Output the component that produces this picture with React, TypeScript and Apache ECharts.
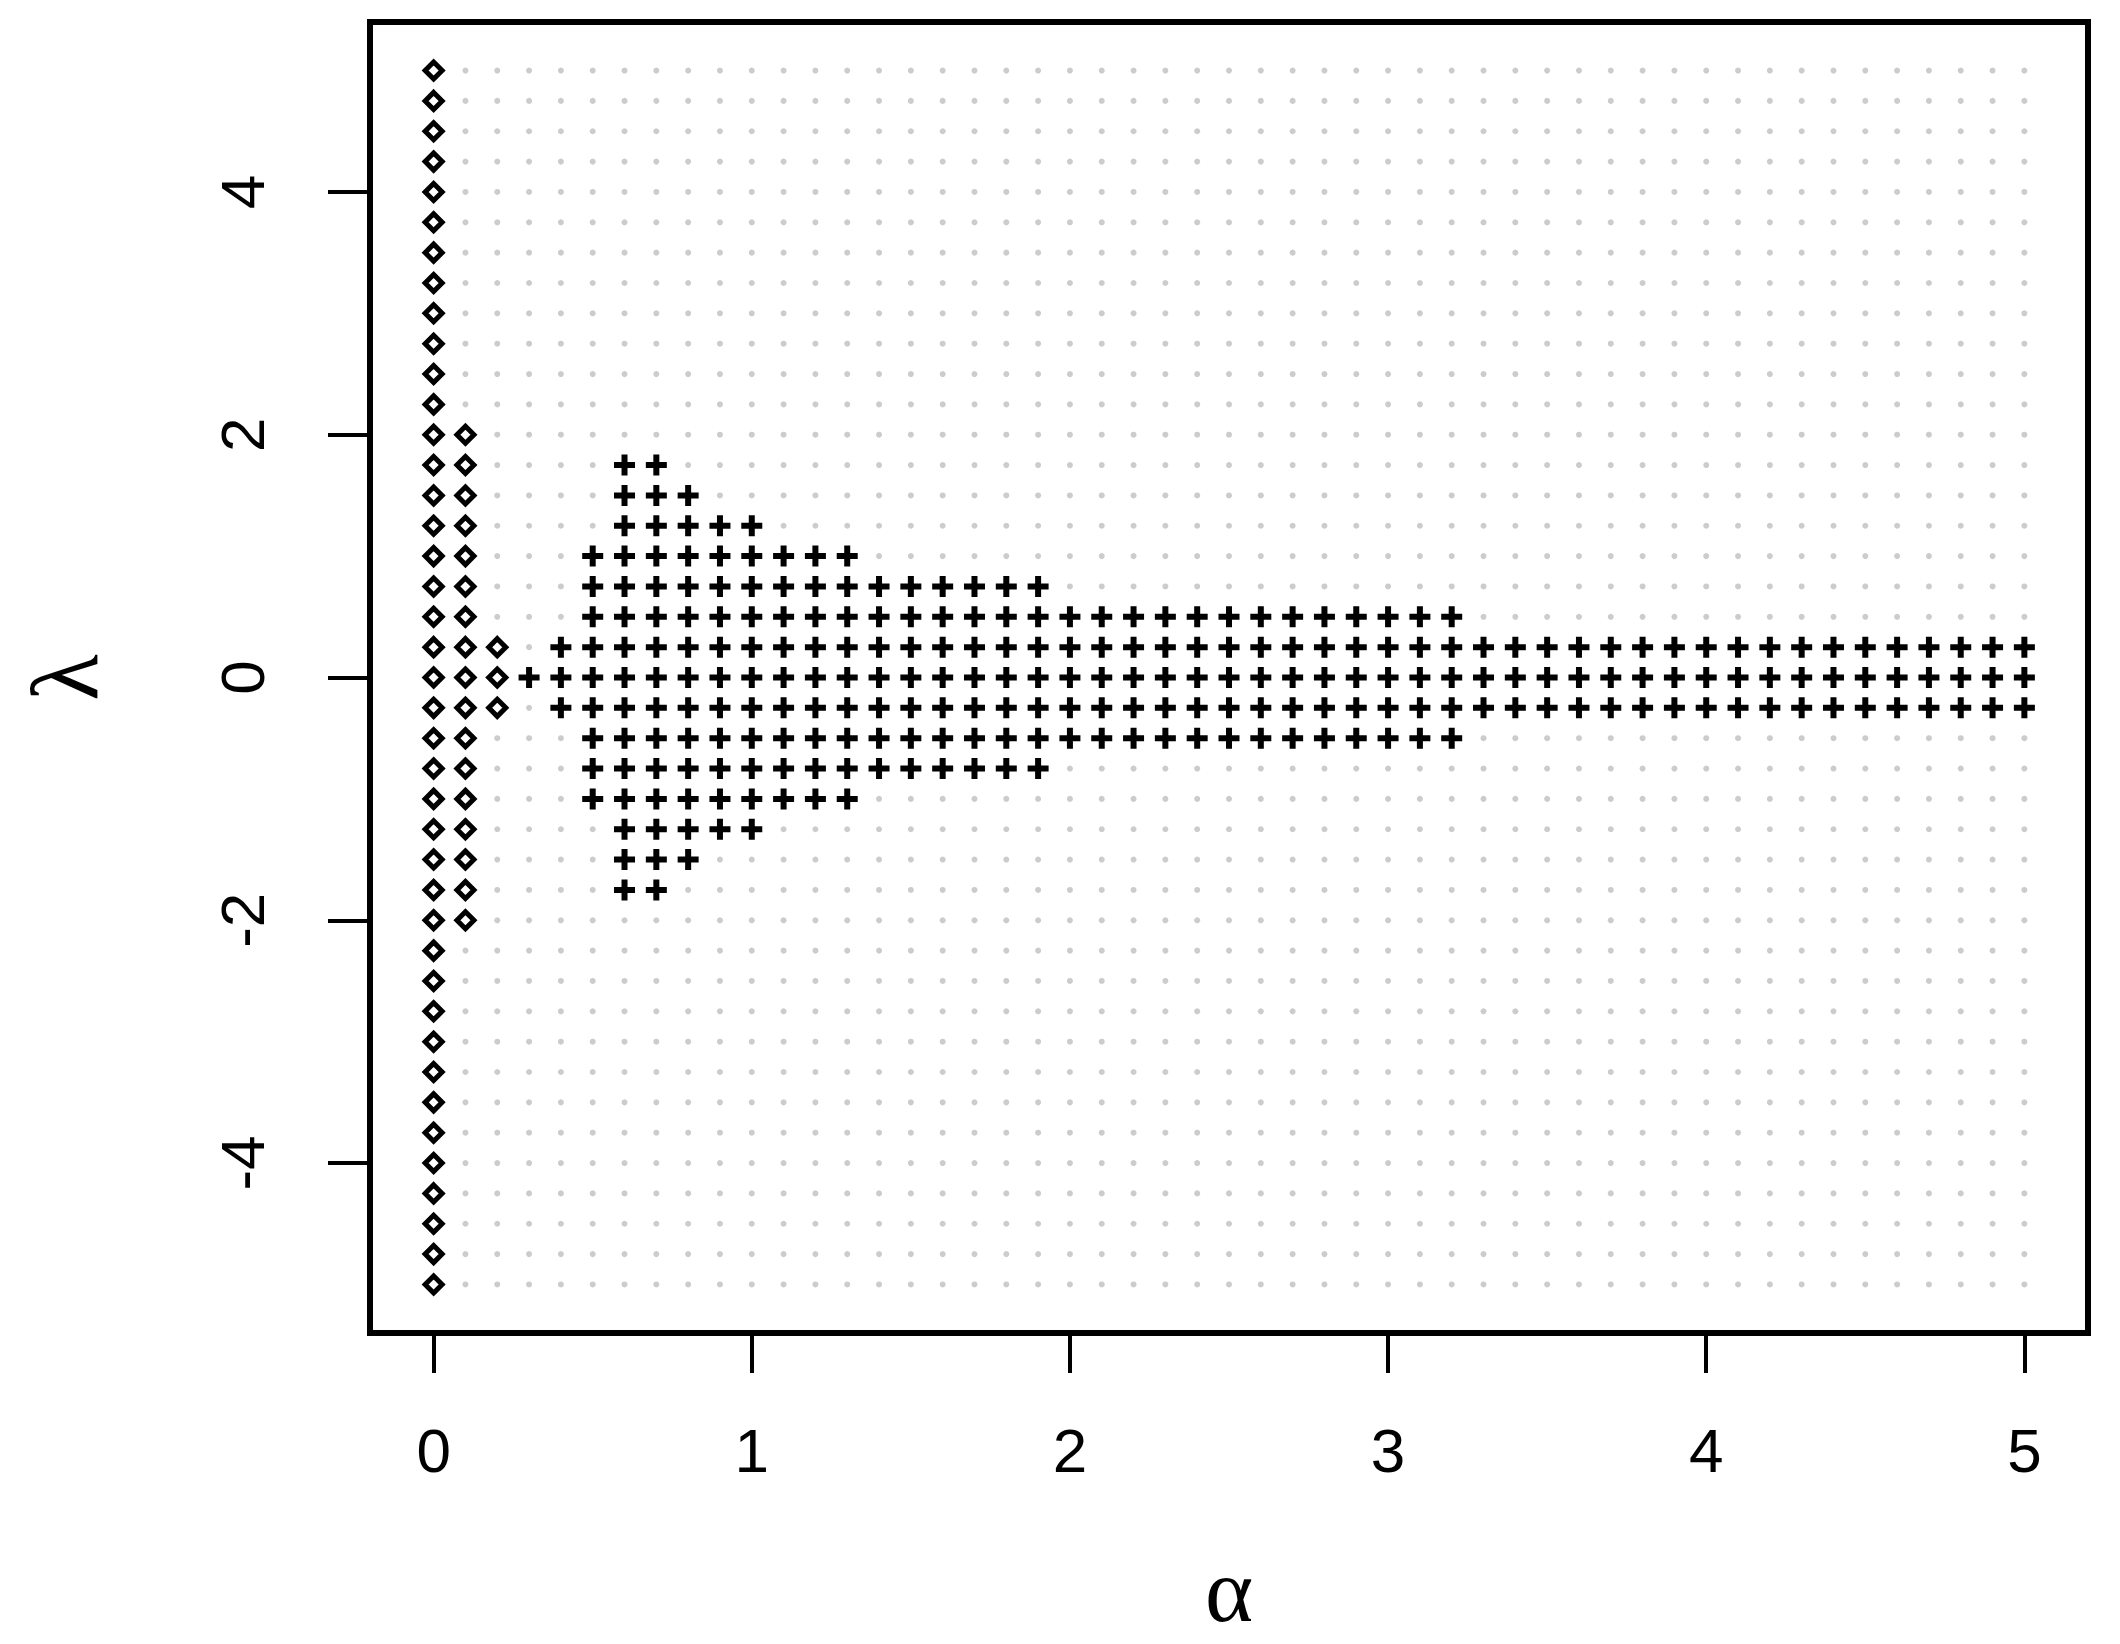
import React, { useEffect, useRef } from "react";
import * as echarts from "echarts";

// Grid of evaluated parameter values
const alphaValues = [
  0, 0.1, 0.2, 0.3, 0.4, 0.5, 0.6, 0.7, 0.8, 0.9,
  1, 1.1, 1.2, 1.3, 1.4, 1.5, 1.6, 1.7, 1.8, 1.9,
  2, 2.1, 2.2, 2.3, 2.4, 2.5, 2.6, 2.7, 2.8, 2.9,
  3, 3.1, 3.2, 3.3, 3.4, 3.5, 3.6, 3.7, 3.8, 3.9,
  4, 4.1, 4.2, 4.3, 4.4, 4.5, 4.6, 4.7, 4.8, 4.9, 5,
];
const lambdaValues = [
  -5, -4.75, -4.5, -4.25, -4, -3.75, -3.5, -3.25, -3, -2.75,
  -2.5, -2.25, -2, -1.75, -1.5, -1.25, -1, -0.75, -0.5, -0.25,
  0, 0.25, 0.5, 0.75, 1, 1.25, 1.5, 1.75, 2, 2.25,
  2.5, 2.75, 3, 3.25, 3.5, 3.75, 4, 4.25, 4.5, 4.75, 5,
];

// Diamond markers: columns (alpha) with lambda ranges
const diamondAlpha = [0, 0.1, 0.2];
const diamondLambdaLow = [-5, -2, -0.25];
const diamondLambdaHigh = [5, 2, 0.25];

// Plus markers: rows (lambda) with alpha ranges
const plusLambda = [1.75, 1.5, 1.25, 1, 0.75, 0.5, 0.25, 0, -0.25, -0.5, -0.75, -1, -1.25, -1.5, -1.75];
const plusAlphaFrom = [0.6, 0.6, 0.6, 0.5, 0.5, 0.5, 0.4, 0.3, 0.4, 0.5, 0.5, 0.5, 0.6, 0.6, 0.6];
const plusAlphaTo = [0.7, 0.8, 1.0, 1.3, 1.9, 3.2, 5, 5, 5, 3.2, 1.9, 1.3, 1.0, 0.8, 0.7];

const xTicks = [0, 1, 2, 3, 4, 5];
const yTicks = [-4, -2, 0, 2, 4];

const EPS = 1e-9;

const PLUS_PATH = "path://M7.5,0H13.5V7.5H21V13.5H13.5V21H7.5V13.5H0V7.5H7.5Z";

export default function App() {
  const ref = useRef<HTMLDivElement>(null);

  useEffect(() => {
    if (!ref.current) return;
    const chart = echarts.init(ref.current, null, { renderer: "svg" });

    const grayData: number[][] = [];
    alphaValues.forEach((a) => lambdaValues.forEach((l) => grayData.push([a, l])));

    const diamondData: number[][] = [];
    diamondAlpha.forEach((a, i) => {
      lambdaValues
        .filter((l) => l >= diamondLambdaLow[i] - EPS && l <= diamondLambdaHigh[i] + EPS)
        .forEach((l) => diamondData.push([a, l]));
    });

    const plusData: number[][] = [];
    plusLambda.forEach((l, i) => {
      alphaValues
        .filter((a) => a >= plusAlphaFrom[i] - EPS && a <= plusAlphaTo[i] + EPS)
        .forEach((a) => plusData.push([a, l]));
    });

    const option: any = {
      animation: false,
      backgroundColor: "#ffffff",
      grid: {
        left: 370,
        top: 22,
        width: 1718,
        height: 1311,
        show: true,
        borderColor: "#000",
        borderWidth: 6,
        backgroundColor: "transparent",
        containLabel: false,
        outerBoundsMode: "none",
      },
      xAxis: {
        type: "value",
        min: -0.2,
        max: 5.2,
        name: "α",
        nameLocation: "middle",
        nameGap: 217,
        nameTextStyle: { fontFamily: "Liberation Serif", fontSize: 92, lineHeight: 80, color: "#000" },
        axisLine: { show: false, onZero: false },
        splitLine: { show: false },
        axisTick: {
          show: true,
          inside: false,
          length: 40,
          customValues: xTicks,
          lineStyle: { color: "#000", width: 4 },
        },
        axisLabel: {
          show: true,
          customValues: xTicks,
          margin: 86,
          fontFamily: "Liberation Sans",
          fontSize: 62,
          color: "#000",
          formatter: (v: number) => String(v),
        },
      },
      yAxis: {
        type: "value",
        min: -5.4,
        max: 5.4,
        name: "λ",
        nameLocation: "middle",
        nameRotate: 90,
        nameGap: 258,
        nameTextStyle: { fontFamily: "Liberation Serif", fontSize: 96, color: "#000" },
        axisLine: { show: false, onZero: false },
        splitLine: { show: false },
        axisTick: {
          show: true,
          inside: false,
          length: 42,
          customValues: yTicks,
          lineStyle: { color: "#000", width: 4 },
        },
        axisLabel: {
          show: true,
          customValues: yTicks,
          rotate: 90,
          margin: 97,
          fontFamily: "Liberation Sans",
          fontSize: 62,
          color: "#000",
          formatter: (v: number) => String(v),
        },
      },
      series: [
        {
          type: "scatter",
          name: "grid",
          data: grayData,
          symbol: "circle",
          symbolSize: 6,
          itemStyle: { color: "#cccccc", opacity: 1 },
          silent: true,
        },
        {
          type: "scatter",
          name: "diamond",
          data: diamondData,
          symbol: "diamond",
          symbolSize: 17,
          itemStyle: { color: "#ffffff", borderColor: "#000000", borderWidth: 5, opacity: 1 },
          silent: true,
        },
        {
          type: "scatter",
          name: "plus",
          data: plusData,
          symbol: PLUS_PATH,
          symbolSize: 21,
          itemStyle: { color: "#000000", opacity: 1 },
          silent: true,
        },
      ],
    };

    chart.setOption(option);
    return () => {
      chart.dispose();
    };
  }, []);

  return (
    <div
      ref={ref}
      style={{ position: "absolute", left: 0, top: 0, width: 2120, height: 1644, background: "#fff" }}
    />
  );
}
